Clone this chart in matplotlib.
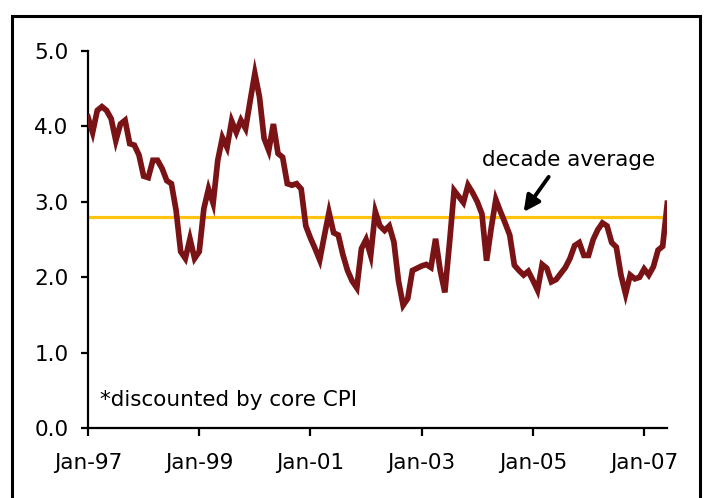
import matplotlib
matplotlib.use("Agg")
import matplotlib.pyplot as plt
from matplotlib.patches import Rectangle
import numpy as np

# Monthly values, Jan-97 .. Jun-07
values_1997 = [4.12, 3.92, 4.21, 4.26, 4.21, 4.10, 3.81, 4.03, 4.08, 3.77, 3.75, 3.62]
values_1998 = [3.34, 3.32, 3.55, 3.55, 3.44, 3.28, 3.24, 2.89, 2.34, 2.25, 2.51, 2.25]
values_1999 = [2.34, 2.91, 3.17, 2.98, 3.55, 3.85, 3.72, 4.07, 3.92, 4.08, 3.97, 4.34]
values_2000 = [4.70, 4.39, 3.84, 3.68, 4.03, 3.64, 3.59, 3.24, 3.22, 3.24, 3.17, 2.68]
values_2001 = [2.52, 2.38, 2.23, 2.55, 2.86, 2.59, 2.56, 2.30, 2.09, 1.95, 1.86, 2.38]
values_2002 = [2.50, 2.29, 2.87, 2.68, 2.62, 2.68, 2.47, 1.95, 1.63, 1.72, 2.09, 2.12]
values_2003 = [2.15, 2.17, 2.13, 2.51, 2.09, 1.80, 2.45, 3.15, 3.07, 2.99, 3.22, 3.12]
values_2004 = [3.00, 2.84, 2.22, 2.65, 3.03, 2.87, 2.72, 2.56, 2.16, 2.09, 2.03, 2.08]
values_2005 = [1.96, 1.83, 2.17, 2.12, 1.94, 1.97, 2.05, 2.13, 2.25, 2.42, 2.46, 2.29]
values_2006 = [2.29, 2.50, 2.63, 2.72, 2.68, 2.46, 2.40, 2.03, 1.78, 2.03, 1.98, 2.00]
values_2007 = [2.11, 2.03, 2.14, 2.36, 2.41, 2.98]

decade_average = 2.8

tick_months = [0, 24, 48, 72, 96, 120]
tick_labels = ["Jan-97", "Jan-99", "Jan-01", "Jan-03", "Jan-05", "Jan-07"]
y_ticks = [0.0, 1.0, 2.0, 3.0, 4.0, 5.0]

series = (values_1997 + values_1998 + values_1999 + values_2000 + values_2001 +
          values_2002 + values_2003 + values_2004 + values_2005 + values_2006 +
          values_2007)
months = np.arange(len(series))

plt.rcParams['font.family'] = ['DejaVu Sans']

fig = plt.figure(figsize=(7.05, 4.98), dpi=100)
ax = fig.add_axes([88 / 705, 69.7 / 498, (667.3 - 88) / 705, (428.3 - 50.8) / 498])

ax.axhline(decade_average, color="#FFC20E", lw=2.3, zorder=2)
ax.plot(months, series, color="#7A1316", lw=4.1, solid_joinstyle="miter", zorder=3)

ax.set_xlim(0, len(series) - 1)
ax.set_ylim(0, 5)
ax.set_xticks(tick_months)
ax.set_xticklabels(tick_labels)
ax.set_yticks(y_ticks)
ax.set_yticklabels([f"{v:.1f}" for v in y_ticks])

for s in ["top", "right"]:
    ax.spines[s].set_visible(False)
for s in ["left", "bottom"]:
    ax.spines[s].set_linewidth(1.6)
    ax.spines[s].set_color("black")

ax.tick_params(axis="x", direction="out", length=6, width=1.6, pad=12, labelsize=15.5)
ax.tick_params(axis="y", direction="out", length=5, width=1.6, pad=9, labelsize=15.5)

ax.text(103.7, 3.55, "decade average", ha="center", va="center", fontsize=15.5)
ax.annotate("", xy=(94.0, 2.865), xytext=(99.4, 3.33),
            arrowprops=dict(arrowstyle="-|>", lw=2.8, color="black", mutation_scale=24,
                            shrinkA=0, shrinkB=0))
ax.text(2.6, 0.37, "*discounted by core CPI", ha="left", va="center", fontsize=15.5)

fig.patches.append(Rectangle((12 / 705, -0.1), (700 - 12) / 705, 1.1 - 16 / 498,
                             transform=fig.transFigure, fill=False, lw=2.2,
                             edgecolor="black"))

fig.savefig("out.png", dpi=100)
